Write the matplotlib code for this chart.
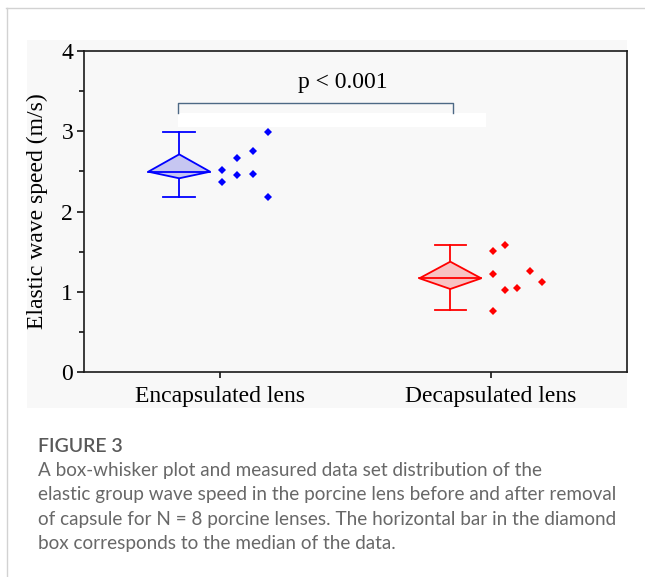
import matplotlib
matplotlib.use('Agg')
import matplotlib.pyplot as plt
from matplotlib.patches import Polygon, Rectangle
from matplotlib.lines import Line2D
from matplotlib.ticker import MultipleLocator

# ---------------- data ----------------
categories = ['Encapsulated lens', 'Decapsulated lens']
enc_values = [2.520, 2.371, 2.669, 2.454, 2.756, 2.466, 2.985, 2.180]
dec_values = [1.513, 1.219, 0.766, 1.580, 1.020, 1.052, 1.256, 1.123]
# whisker low, Q1, median, Q3, whisker high
enc_box = [2.180, 2.413, 2.495, 2.711, 2.985]
dec_box = [0.771, 1.036, 1.169, 1.376, 1.583]
p_label = 'p < 0.001'
yticks = [0, 1, 2, 3, 4]
ylabel = 'Elastic wave speed (m/s)'
caption_title = 'FIGURE 3'
caption_lines = [
    'A box-whisker plot and measured data set distribution of the',
    'elastic group wave speed in the porcine lens before and after removal',
    'of capsule for N = 8 porcine lenses. The horizontal bar in the diamond',
    'box corresponds to the median of the data.',
]

# point scatter offsets (horizontal spreading of the raw data)
enc_offsets = [0.007, 0.007, 0.064, 0.064, 0.121, 0.121, 0.177, 0.177]
dec_offsets = [0.007, 0.007, 0.007, 0.052, 0.052, 0.097, 0.144, 0.188]

# ---------------- figure ----------------
W, H = 645, 577
fig = plt.figure(figsize=(W / 100, H / 100), dpi=100, facecolor='white')
serif = ['Liberation Serif', 'DejaVu Serif']

# light gray panel behind the chart
fig.patches.append(Rectangle((27 / W, 1 - 408 / H), 600 / W, 368 / H,
                             transform=fig.transFigure, facecolor='#f8f8f8',
                             edgecolor='none', zorder=-5))
# page frame lines
fig.lines.append(Line2D([6 / W, 1], [1 - 7.5 / H, 1 - 7.5 / H], transform=fig.transFigure,
                        color='#d2d2d2', lw=1.0, zorder=-4))
fig.lines.append(Line2D([6.5 / W, 6.5 / W], [0, 1 - 7.5 / H], transform=fig.transFigure,
                        color='#d2d2d2', lw=1.0, zorder=-4))

ax = fig.add_axes([84.3 / W, 1 - 372.3 / H, (626.5 - 84.3) / W, (372.3 - 50.7) / H])
ax.set_zorder(2)
ax.set_facecolor('#f8f8f8')
ax.set_xlim(0.5, 2.5)
ax.set_ylim(0, 4)

box_shift = -0.15
diamond_hw = 0.114
cap_hw = 0.058
styles = [('#0000ff', '#c6c6f1'), ('#ff0000', '#f8c3c3')]
series = [(enc_values, enc_box, enc_offsets), (dec_values, dec_box, dec_offsets)]

for i, ((vals, box, offs), (ec, fc)) in enumerate(zip(series, styles)):
    cat = i + 1
    xc = cat + box_shift
    lo, q1, med, q3, hi = box
    # whiskers
    ax.plot([xc, xc], [q3, hi], color=ec, lw=1.3, zorder=3)
    ax.plot([xc, xc], [lo, q1], color=ec, lw=1.3, zorder=3)
    ax.plot([xc - cap_hw, xc + cap_hw], [hi, hi], color=ec, lw=1.3, zorder=3)
    ax.plot([xc - cap_hw, xc + cap_hw], [lo, lo], color=ec, lw=1.3, zorder=3)
    # diamond box
    dia = Polygon([(xc - diamond_hw, med), (xc, q3), (xc + diamond_hw, med), (xc, q1)],
                  closed=True, facecolor=fc, edgecolor=ec, lw=1.3, zorder=4)
    ax.add_patch(dia)
    ax.plot([xc - diamond_hw, xc + diamond_hw], [med, med], color=ec, lw=1.3, zorder=5)
    # raw data points
    ax.plot([cat + o for o in offs], vals, linestyle='none', marker='D',
            markersize=3.6, color=ec, markeredgewidth=0, zorder=5)

# significance bracket
y_br = 3.346
y_br_end = 3.222
ax.plot([0.844, 0.844, 1.859, 1.859], [y_br_end, y_br, y_br, y_br_end],
        color='#4d6985', lw=1.0, zorder=3)
ax.add_patch(Rectangle((0.844, 3.05), 1.98 - 0.844, 3.225 - 3.05,
                       facecolor='white', edgecolor='none', zorder=2))
ax.text(1.4525, 3.536, p_label, ha='center', va='baseline', fontsize=17,
        family=serif, color='black', zorder=6)

# axes styling
for s in ax.spines.values():
    s.set_linewidth(1.2)
    s.set_color('#1a1a1a')
ax.set_xticks([1, 2])
ax.set_xticklabels(categories, family=serif, fontsize=17)
ax.set_yticks(yticks)
ax.set_yticklabels([str(t) for t in yticks], family=serif, fontsize=17)
ax.yaxis.set_minor_locator(MultipleLocator(0.5))
ax.tick_params(axis='y', which='major', direction='out', length=5, width=1.1, pad=3)
ax.tick_params(axis='y', which='minor', direction='out', length=3.5, width=1.1)
ax.tick_params(axis='x', which='major', direction='out', length=4.5, width=1.1, pad=5.5)
ax.set_ylabel(ylabel, family=serif, fontsize=17, va='center')
ax.yaxis.set_label_coords(-0.087, 0.5)

# caption
cap_font = ['Lato', 'DejaVu Sans']
fig.text(38.5 / W, 1 - 451.7 / H, caption_title, family=cap_font, fontsize=14,
         weight='semibold', color='#595959', ha='left', va='baseline')
for k, line in enumerate(caption_lines):
    fig.text(38.5 / W, 1 - (475.9 + 24.5 * k) / H, line, family=cap_font, fontsize=13.6,
             color='#686868', ha='left', va='baseline')

fig.savefig('out.png', dpi=100, facecolor='white')
